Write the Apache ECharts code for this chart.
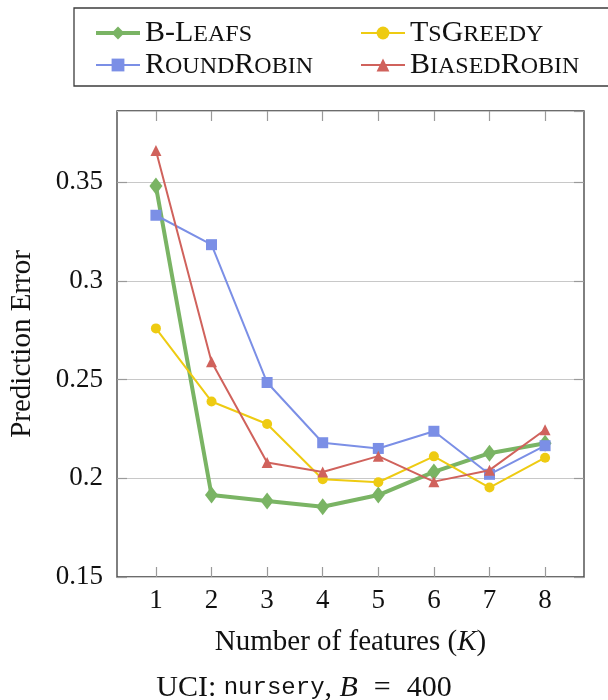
<!DOCTYPE html>
<html>
<head>
<meta charset="utf-8">
<script src="https://cdn.jsdelivr.net/npm/echarts@6/dist/echarts.min.js"></script>
<style>
  html, body { margin: 0; padding: 0; background: #fff; }
  #chart { width: 608px; height: 700px; }
</style>
</head>
<body>
<div id="chart"></div>
<script>
// Number of features K on the x axis
const features = [1, 2, 3, 4, 5, 6, 7, 8];
const yTicks = [0.15, 0.2, 0.25, 0.3, 0.35];

// Prediction error per method
const bLeafs      = [0.348, 0.1915, 0.1885, 0.1856, 0.1915, 0.2032, 0.2127, 0.2177];
const tsGreedy    = [0.2759, 0.2389, 0.2275, 0.1995, 0.198, 0.2111, 0.1953, 0.2104];
const roundRobin  = [0.3332, 0.3183, 0.2485, 0.218, 0.2151, 0.2238, 0.202, 0.2165];
const biasedRobin = [0.366, 0.259, 0.208, 0.2032, 0.2112, 0.1983, 0.2041, 0.2246];

const SERIF = 'Liberation Serif';
const TICK_FS = 27;   // tick labels
const NAME_FS = 29;   // axis names
const CAP_FS = 30;    // caption under the chart
const LEG_FS = 30;    // legend capitals
const LEG_SC = 24;    // legend small caps

// Render a name in small caps using rich text tokens
function smallCaps(name) {
  let out = '';
  let i = 0;
  while (i < name.length) {
    const lower = name[i] >= 'a' && name[i] <= 'z';
    let j = i;
    while (j < name.length && ((name[j] >= 'a' && name[j] <= 'z') === lower)) j++;
    const seg = name.slice(i, j);
    out += lower ? '{s|' + seg.toUpperCase() + '}' : '{b|' + seg + '}';
    i = j;
  }
  return out;
}

const legendRich = {
  b: { fontFamily: SERIF, fontSize: LEG_FS, color: '#111', lineHeight: 30, verticalAlign: 'bottom' },
  s: { fontFamily: SERIF, fontSize: LEG_SC, color: '#111', lineHeight: 30, verticalAlign: 'bottom', padding: [0, 0, 1, 0] }
};

const toPairs = vals => features.map((k, i) => [k, vals[i]]);

function makeSeries(name, vals, color, symbol, size, width, z) {
  return {
    name: name,
    type: 'line',
    data: toPairs(vals),
    symbol: symbol,
    symbolSize: size,
    showAllSymbol: true,
    lineStyle: { color: color, width: width },
    itemStyle: { color: color, borderWidth: 0 },
    emphasis: { disabled: true },
    z: z,
    animation: false
  };
}

const colors = {
  bLeafs: '#7ab464',
  tsGreedy: '#eecb12',
  roundRobin: '#7b8fe6',
  biasedRobin: '#d0625c'
};

const tickColor = '#9a9a9a';
const gridColor = '#c8c8c8';

const legendBase = {
  orient: 'vertical',
  top: 13,
  itemWidth: 44, itemHeight: 16,
  itemGap: 2,
  selectedMode: false,
  formatter: smallCaps,
  textStyle: { rich: legendRich }
};

const chart = echarts.init(document.getElementById('chart'), null, { renderer: 'canvas' });

chart.setOption({
  backgroundColor: '#ffffff',
  animation: false,
  title: {
    text: '{r|UCI: }{m|nursery}{r|, }{i|B}{e|=}{r|400}',
    left: 'center',
    top: 668,
    textStyle: {
      fontWeight: 'normal',
      rich: {
        r: { fontFamily: SERIF, fontSize: CAP_FS, fontWeight: 'normal', color: '#111' },
        m: { fontFamily: 'Liberation Mono', fontSize: 24, fontWeight: 'normal', color: '#111' },
        i: { fontFamily: SERIF, fontSize: CAP_FS, fontStyle: 'italic', fontWeight: 'normal', color: '#111' },
        e: { fontFamily: SERIF, fontSize: CAP_FS, fontWeight: 'normal', color: '#111', padding: [0, 16, 0, 16] }
      }
    }
  },
  grid: {
    left: 117, right: 24, top: 111, bottom: 123,
    show: true, borderColor: '#3c3c3c', borderWidth: 1.3,
    backgroundColor: 'transparent'
  },
  legend: [
    Object.assign({}, legendBase, {
      left: 89, itemTextGap: 17,
      data: [
        { name: 'B-Leafs', lineStyle: { width: 4, color: colors.bLeafs } },
        { name: 'RoundRobin', lineStyle: { width: 2, color: colors.roundRobin } }
      ]
    }),
    Object.assign({}, legendBase, {
      left: 355, itemTextGap: 16,
      data: [
        { name: 'TsGreedy', lineStyle: { width: 2, color: colors.tsGreedy } },
        { name: 'BiasedRobin', lineStyle: { width: 2, color: colors.biasedRobin } }
      ]
    })
  ],
  graphic: [
    {
      type: 'rect',
      shape: { x: 74, y: 8, width: 560, height: 78 },
      style: { fill: 'none', stroke: '#3c3c3c', lineWidth: 1.3 },
      silent: true
    }
  ],
  xAxis: [
    {
      type: 'value',
      min: 0.3, max: 8.7,
      position: 'bottom',
      name: 'Number of features ({i|K})',
      nameLocation: 'middle',
      nameGap: 51,
      nameTextStyle: {
        fontFamily: SERIF, fontSize: NAME_FS, color: '#111',
        rich: { i: { fontFamily: SERIF, fontSize: NAME_FS, fontStyle: 'italic', color: '#111' } }
      },
      axisLine: { show: false },
      axisTick: { show: true, inside: true, length: 10, customValues: features, lineStyle: { color: tickColor, width: 1.2 } },
      axisLabel: { show: true, customValues: features, margin: 10, fontFamily: SERIF, fontSize: TICK_FS, color: '#111' },
      splitLine: { show: false }
    },
    {
      type: 'value',
      min: 0.3, max: 8.7,
      position: 'top',
      axisLine: { show: false },
      axisTick: { show: true, inside: true, length: 10, customValues: features, lineStyle: { color: tickColor, width: 1.2 } },
      axisLabel: { show: false },
      splitLine: { show: false }
    }
  ],
  yAxis: [
    {
      type: 'value',
      min: 0.15, max: 0.386,
      interval: 0.05,
      position: 'left',
      name: 'Prediction Error',
      nameLocation: 'middle',
      nameGap: 80,
      nameTextStyle: { fontFamily: SERIF, fontSize: NAME_FS, color: '#111' },
      axisLine: { show: false },
      axisTick: { show: true, inside: true, length: 10, lineStyle: { color: tickColor, width: 1.2 } },
      axisLabel: {
        margin: 14, fontFamily: SERIF, fontSize: TICK_FS, color: '#111',
        showMaxLabel: false,
        formatter: v => {
          const r = Math.round(v * 100) / 100;
          return yTicks.some(t => Math.abs(t - r) < 1e-9) ? String(r) : '';
        }
      },
      splitLine: { show: true, lineStyle: { color: gridColor, width: 1.2 } }
    },
    {
      type: 'value',
      min: 0.15, max: 0.386,
      interval: 0.05,
      position: 'right',
      axisLine: { show: false },
      axisTick: { show: true, inside: true, length: 10, lineStyle: { color: tickColor, width: 1.2 } },
      axisLabel: { show: false },
      splitLine: { show: false }
    }
  ],
  series: [
    makeSeries('B-Leafs', bLeafs, colors.bLeafs, 'diamond', [13, 17], 4, 2),
    makeSeries('TsGreedy', tsGreedy, colors.tsGreedy, 'circle', 10, 2, 3),
    makeSeries('RoundRobin', roundRobin, colors.roundRobin, 'rect', 11, 2, 4),
    makeSeries('BiasedRobin', biasedRobin, colors.biasedRobin, 'triangle', 11, 2, 5)
  ]
});
</script>
</body>
</html>
